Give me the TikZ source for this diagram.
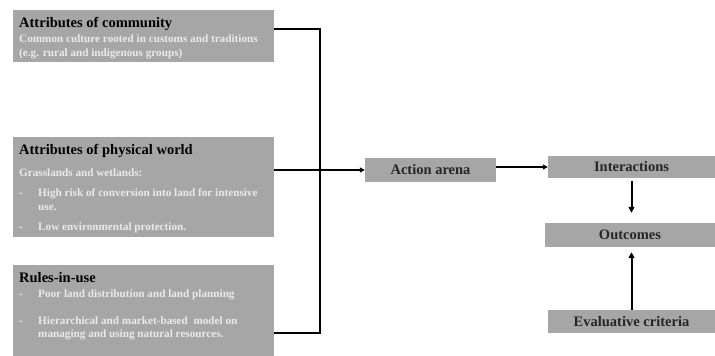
\documentclass[tikz,border=0pt]{standalone}
\usepackage{fontspec}
\setmainfont{Liberation Serif}
\usetikzlibrary{arrows.meta}
\definecolor{boxgray}{HTML}{A6A6A6}
\definecolor{lighttext}{HTML}{EAEAEA}
\begin{document}
\begin{tikzpicture}[x=1pt,y=-1pt,
  panel/.style={fill=boxgray, draw=none, anchor=north west, inner sep=0pt},
  title/.style={anchor=base west, inner sep=0pt, font=\bfseries\fontsize{14.5}{16}\selectfont, text=black},
  body/.style={anchor=base west, inner sep=0pt, font=\bfseries\fontsize{11.2}{13}\selectfont, text=lighttext},
  stage/.style={fill=boxgray, draw=none, inner sep=0pt, font=\bfseries\fontsize{14.5}{16}\selectfont, text=black!85},
  bus/.style={line width=1.8pt},
  flow/.style={line width=1.4pt, -{Triangle[length=5pt,width=5pt]}},
  vflow/.style={line width=2pt, -{Triangle[length=6pt,width=6pt]}}
]
\useasboundingbox (0,0) rectangle (715,356);

% left-hand panels
\node[panel, minimum width=261pt, minimum height=52pt] (community) at (13,10) {};
\node[panel, minimum width=261pt, minimum height=100pt] (physical) at (13,137) {};
\node[panel, minimum width=261pt, minimum height=94pt] (rules) at (13,265) {};

% text of the community panel
\node[title] (t1) at (19,27.7) {Attributes of community};
\node[body] (t1a) at (19,42.3) {Common culture rooted in customs and traditions};
\node[body] (t1b) at (19,56.5) {(e.g. rural and indigenous groups)};

% text of the physical-world panel
\node[title] (t2) at (19,154) {Attributes of physical world};
\node[body] (t2a) at (19,176) {Grasslands and wetlands:};
\node[body] (d2b) at (19,196) {-};
\node[body] (t2b) at (38,196) {High risk of conversion into land for intensive};
\node[body] (t2c) at (38,210) {use.};
\node[body] (d2d) at (19,230.5) {-};
\node[body] (t2d) at (38,230.5) {Low environmental protection.};

% text of the rules panel
\node[title] (t3) at (19,282) {Rules-in-use};
\node[body] (d3a) at (19,297) {-};
\node[body] (t3a) at (38,297) {Poor land distribution and land planning};
\node[body] (d3b) at (19,324) {-};
\node[body] (t3b) at (38,324) {Hierarchical and market-based\ \ model on};
\node[body] (t3c) at (38,337) {managing and using natural resources.};

% right-hand stages
\node[stage, minimum width=131pt, minimum height=24pt] (arena) at (430.5,170) {Action arena};
\node[stage, minimum width=167pt, minimum height=22pt] (inter) at (631.5,167) {Interactions};
\node[stage, minimum width=170pt, minimum height=24pt] (outcomes) at (630,235) {Outcomes};
\node[stage, minimum width=167pt, minimum height=23pt] (criteria) at (631.5,321.5) {Evaluative criteria};

% collecting bus on the left
\coordinate (bustop) at (320,29);
\coordinate (busbot) at (320,333);
\draw[bus, line join=miter] (community.east |- bustop) -- (bustop) -- (busbot) -- (rules.east |- busbot);
\draw[flow] (physical.east |- arena.west) -- (arena.west);

% flow between the stages
\draw[flow] (arena.east |- inter.west) -- (inter.west);
\draw[vflow, shorten <=3pt, shorten >=10pt] (inter.south) -- (outcomes.north -| inter.south);
\draw[vflow, shorten >=5pt] (criteria.north) -- (outcomes.south -| criteria.north);
\end{tikzpicture}
\end{document}
